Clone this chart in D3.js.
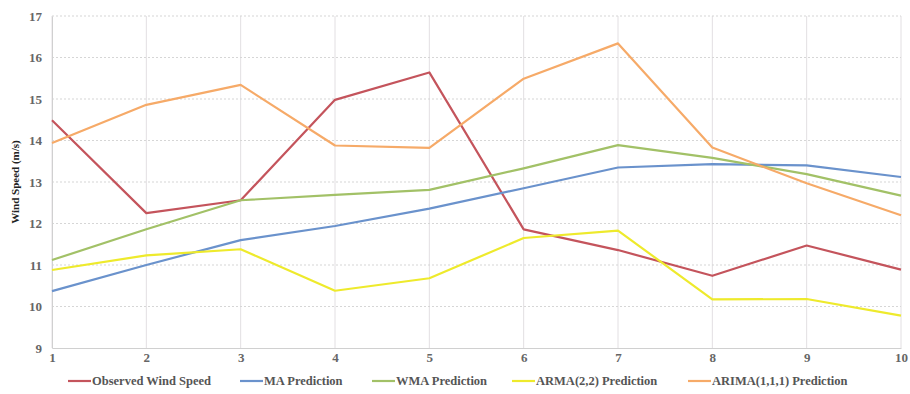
<!DOCTYPE html>
<html>
<head>
<meta charset="utf-8">
<script src="https://cdn.jsdelivr.net/npm/d3@7"></script>
<style>
  html, body { margin: 0; padding: 0; background: #fff; }
  svg { display: block; }
  text { font-family: "Liberation Serif", "Times New Roman", serif; }
</style>
</head>
<body>
<svg id="chart" width="910" height="394"></svg>
<script>
// Time steps on the x axis
const steps = [1, 2, 3, 4, 5, 6, 7, 8, 9, 10];
const yTicks = [9, 10, 11, 12, 13, 14, 15, 16, 17];

// Wind speed (m/s) per step
const observed = [14.49, 12.25, 12.56, 14.98, 15.64, 11.86, 11.36, 10.74, 11.47, 10.89];
const maPred   = [10.37, 11.0, 11.6, 11.94, 12.36, 12.85, 13.35, 13.43, 13.4, 13.12];
const wmaPred  = [11.12, 11.86, 12.56, 12.69, 12.81, 13.33, 13.89, 13.58, 13.19, 12.67];
const armaPred = [10.88, 11.23, 11.38, 10.38, 10.68, 11.65, 11.83, 10.17, 10.18, 9.78];
const arimaPred = [13.94, 14.86, 15.34, 13.88, 13.82, 15.49, 16.34, 13.83, 12.97, 12.2];

const seriesNames = ["Observed Wind Speed", "MA Prediction", "WMA Prediction", "ARMA(2,2) Prediction", "ARIMA(1,1,1) Prediction"];
const seriesValues = [observed, maPred, wmaPred, armaPred, arimaPred];
const seriesColors = ["#c4545c", "#6a92cc", "#a2c167", "#eeea2c", "#f6aa68"];

const svg = d3.select("#chart");
const plotLeft = 52, plotRight = 901, plotTop = 16, plotBottom = 348;

const x = d3.scaleLinear().domain([1, 10]).range([plotLeft, plotRight]);
const y = d3.scaleLinear().domain([9, 17]).range([plotBottom, plotTop]);

// Vertical gridlines
svg.append("g")
  .selectAll("line")
  .data(steps)
  .join("line")
  .attr("x1", d => x(d)).attr("x2", d => x(d))
  .attr("y1", plotTop).attr("y2", plotBottom)
  .attr("stroke", "#e2dfe2").attr("stroke-width", 1);

// Horizontal dotted gridlines
svg.append("g")
  .selectAll("line")
  .data(yTicks.filter(d => d > 9))
  .join("line")
  .attr("x1", plotLeft).attr("x2", plotRight)
  .attr("y1", d => y(d)).attr("y2", d => y(d))
  .attr("stroke", "#d6d6d6").attr("stroke-width", 1.2)
  .attr("stroke-dasharray", "2,2");

// Axes
const yAxis = d3.axisLeft(y).tickValues(yTicks).tickFormat(d3.format("d")).tickSize(0).tickPadding(10);
const gy = svg.append("g").attr("transform", `translate(${plotLeft},0)`).call(yAxis);
gy.select(".domain").attr("stroke", "#d0d0d0");
gy.selectAll("text").attr("font-size", 13).attr("font-weight", "bold").attr("fill", "#666");

const xAxis = d3.axisBottom(x).tickValues(steps).tickFormat(d3.format("d")).tickSize(0).tickPadding(5);
const gx = svg.append("g").attr("transform", `translate(0,${plotBottom})`).call(xAxis);
gx.select(".domain").attr("stroke", "#d0d0d0");
gx.selectAll("text").attr("font-size", 13).attr("font-weight", "bold").attr("fill", "#666");

// Y axis title
svg.append("text")
  .attr("transform", `translate(19,${(plotTop + plotBottom) / 2}) rotate(-90)`)
  .attr("text-anchor", "middle")
  .attr("font-size", 11).attr("font-weight", "bold").attr("fill", "#222")
  .text("Wind Speed (m/s)");

// Series lines
const line = d3.line().x((d, i) => x(steps[i])).y(d => y(d));
svg.append("g")
  .selectAll("path")
  .data(seriesValues)
  .join("path")
  .attr("d", d => line(d))
  .attr("fill", "none")
  .attr("stroke", (d, i) => seriesColors[i])
  .attr("stroke-width", 2.2)
  .attr("stroke-linejoin", "round");

// Legend
const legendX = [68, 240, 372, 512, 688];
const lg = svg.append("g").selectAll("g")
  .data(seriesNames)
  .join("g")
  .attr("transform", (d, i) => `translate(${legendX[i]},381)`);
lg.append("line")
  .attr("x1", 0).attr("x2", 23).attr("y1", 0).attr("y2", 0)
  .attr("stroke", (d, i) => seriesColors[i]).attr("stroke-width", 2.2);
lg.append("text")
  .attr("x", 24).attr("y", 4)
  .attr("font-size", 12.5).attr("font-weight", "bold").attr("fill", "#555")
  .text(d => d);
</script>
</body>
</html>
